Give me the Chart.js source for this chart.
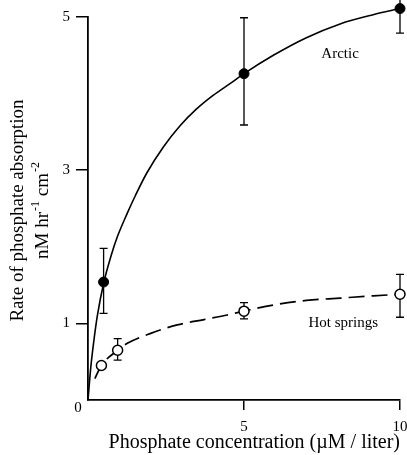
<!DOCTYPE html>
<html><head><meta charset="utf-8">
<script src="https://cdn.jsdelivr.net/npm/chart.js@4.4.0/dist/chart.umd.min.js"></script>
<style>html,body{margin:0;padding:0;background:#fff;} #wrap{width:407px;height:455px;position:relative;}</style>
</head><body><div id="wrap"><canvas id="c" width="407" height="455" style="width:407px;height:455px;"></canvas></div>
<script>
// ---- data ----
const xTicks = [5, 10];
const yTicks = [1, 3, 5];
const originLabel = '0';

const arcticX    = [0.5, 5, 10];
const arcticY    = [1.54, 4.26, 5.11];
const arcticLow  = [1.13, 3.59, 4.79];
const arcticHigh = [1.98, 4.99, 5.43];

const hotX    = [0.43, 0.95, 5, 10];
const hotY    = [0.45, 0.65, 1.16, 1.38];
const hotLow  = [0.45, 0.52, 1.06, 1.08];
const hotHigh = [0.45, 0.80, 1.27, 1.64];

const arcticCurveX = [0, 0.09, 0.19, 0.30, 0.51, 0.73, 0.94, 1.26, 1.52, 1.88, 2.41, 2.95, 3.48, 4.02, 4.55, 5.0, 5.94, 7.0, 8.08, 9.14, 10];
const arcticCurveY = [0, 0.43, 0.78, 1.10, 1.54, 1.87, 2.13, 2.44, 2.67, 2.96, 3.30, 3.58, 3.80, 3.98, 4.13, 4.26, 4.50, 4.73, 4.91, 5.03, 5.11];

const hotCurveX = [0.22, 0.43, 0.95, 1.26, 2.01, 2.86, 3.72, 4.47, 5.0, 5.94, 7.0, 8.08, 9.14, 10];
const hotCurveY = [0.28, 0.45, 0.65, 0.74, 0.87, 0.98, 1.05, 1.11, 1.16, 1.24, 1.30, 1.33, 1.36, 1.38];

const seriesLabels = ['Arctic', 'Hot springs'];
const labelPosX = [8.08, 8.18];
const labelPosY = [4.52, 1.0];

const xTitle = 'Phosphate concentration (\u00B5M / liter)';
const yTitleLine1 = 'Rate of phosphate absorption';
// second line as [text, isSuperscript] parts: nM hr^-1 cm^-2
const yTitleLine2 = [['nM hr', false], ['-1', true], [' cm', false], ['-2', true]];

const SERIF = '"Liberation Serif", "Times New Roman", serif';
const pts = (xs, ys) => xs.map((v, i) => ({x: v, y: ys[i]}));

const extras = {
  id: 'extras',
  beforeDatasetsDraw(chart) {
    const {ctx, scales: {x, y}} = chart;
    ctx.save();
    ctx.strokeStyle = '#000';
    ctx.lineWidth = 1.3;
    const bars = (xs, lo, hi) => xs.forEach((v, i) => {
      if (hi[i] - lo[i] <= 0) return;
      const px = x.getPixelForValue(v);
      const p1 = y.getPixelForValue(lo[i]);
      const p2 = y.getPixelForValue(hi[i]);
      ctx.beginPath();
      ctx.moveTo(px, p1); ctx.lineTo(px, p2);
      ctx.moveTo(px - 4, p1); ctx.lineTo(px + 4, p1);
      ctx.moveTo(px - 4, p2); ctx.lineTo(px + 4, p2);
      ctx.stroke();
    });
    bars(arcticX, arcticLow, arcticHigh);
    bars(hotX, hotLow, hotHigh);
    ctx.restore();
    // let markers just above the top of the axis still be drawn
    this._savedTop = chart.chartArea.top;
    chart.chartArea.top = -40;
  },
  afterDatasetsDraw(chart) {
    chart.chartArea.top = this._savedTop;
  },
  afterDraw(chart) {
    const {ctx, scales: {x, y}} = chart;
    ctx.save();
    ctx.fillStyle = '#000';
    ctx.font = '15px ' + SERIF;
    ctx.textAlign = 'center';
    ctx.textBaseline = 'middle';
    seriesLabels.forEach((t, i) => {
      ctx.fillText(t, x.getPixelForValue(labelPosX[i]), y.getPixelForValue(labelPosY[i]));
    });
    ctx.fillText(originLabel, x.left - 10, y.bottom + 8);

    // rotated y-axis title (two lines, second with superscripts)
    const cy = (y.top + y.bottom) / 2 + 2;
    ctx.translate(18, cy);
    ctx.rotate(-Math.PI / 2);
    ctx.font = '19px ' + SERIF;
    ctx.textBaseline = 'middle';
    ctx.textAlign = 'center';
    ctx.fillText(yTitleLine1, 0, 0);
    // line 2
    const mainFont = '19px ' + SERIF, supFont = '12px ' + SERIF;
    let total = 0;
    yTitleLine2.forEach(([t, sup]) => { ctx.font = sup ? supFont : mainFont; total += ctx.measureText(t).width + (sup ? 1 : 0); });
    let cx = -total / 2;
    ctx.textAlign = 'left';
    yTitleLine2.forEach(([t, sup]) => {
      ctx.font = sup ? supFont : mainFont;
      ctx.fillText(t, cx + (sup ? 1 : 0), sup ? 25 - 7 : 25);
      cx += ctx.measureText(t).width + (sup ? 1 : 0);
    });
    ctx.restore();
  }
};

new Chart(document.getElementById('c'), {
  type: 'scatter',
  data: {
    datasets: [
      { label: 'Arctic', data: pts(arcticX, arcticY), showLine: false,
        pointRadius: 5, pointBackgroundColor: '#000', pointBorderColor: '#000', pointBorderWidth: 1, clip: false },
      { label: 'Hot springs', data: pts(hotX, hotY), showLine: false,
        pointRadius: 5, pointBackgroundColor: '#fff', pointBorderColor: '#000', pointBorderWidth: 1.5, clip: false },
      { label: 'Arctic fit', data: pts(arcticCurveX, arcticCurveY), showLine: true, pointRadius: 0,
        borderColor: '#000', borderWidth: 1.6, cubicInterpolationMode: 'monotone', clip: false },
      { label: 'Hot springs fit', data: pts(hotCurveX, hotCurveY), showLine: true, pointRadius: 0,
        borderColor: '#000', borderWidth: 1.7, borderDash: [16, 7], cubicInterpolationMode: 'monotone', clip: false }
    ]
  },
  options: {
    responsive: false,
    animation: false,
    devicePixelRatio: 1,
    layout: { padding: { top: 17, right: 7, left: 0, bottom: 0 } },
    plugins: { legend: { display: false }, tooltip: { enabled: false } },
    scales: {
      x: {
        type: 'linear', min: 0, max: 10,
        afterBuildTicks: s => { s.ticks = xTicks.map(v => ({value: v})); },
        afterFit: s => { s.height = 55; s.paddingRight = 7; s.paddingLeft = 0; },
        grid: { display: true, drawOnChartArea: false, drawTicks: true, tickLength: 10, color: '#000', lineWidth: 1.5 },
        border: { display: true, color: '#000', width: 1.8 },
        ticks: { color: '#000', font: { family: SERIF, size: 15 }, padding: 8, autoSkip: false, maxRotation: 0 },
        title: { display: true, text: xTitle, align: 'end', color: '#000',
                 font: { family: SERIF, size: 20 }, padding: { top: 0, bottom: 0 } }
      },
      y: {
        type: 'linear', min: 0, max: 5,
        afterBuildTicks: s => { s.ticks = yTicks.map(v => ({value: v})); },
        afterFit: s => { s.width = 88; },
        grid: { display: true, drawOnChartArea: false, drawTicks: true, tickLength: 12, color: '#000', lineWidth: 1.5 },
        border: { display: true, color: '#000', width: 1.8 },
        ticks: { color: '#000', font: { family: SERIF, size: 15 }, padding: 6 },
        title: { display: false }
      }
    }
  },
  plugins: [extras]
});
</script>
</body></html>
